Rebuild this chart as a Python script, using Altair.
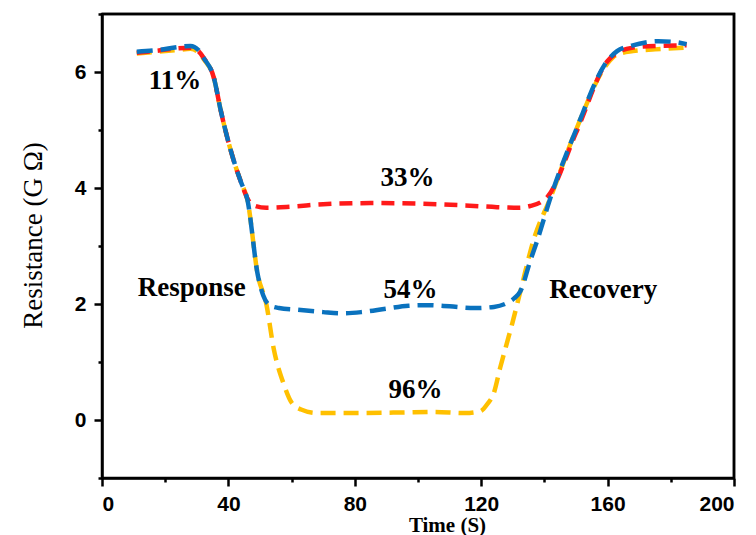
import altair as alt
import pandas as pd

# Red series (33%)
red_t = [11, 18, 24, 28, 30.5, 32.2, 35.4, 37.6, 41.7, 44, 46, 48, 52, 60, 70, 85, 100, 115, 125, 132, 135.5, 139, 141, 150, 160, 163, 168, 175, 185]
red_r = [6.33, 6.37, 6.41, 6.42, 6.36, 6.24, 5.9, 5.33, 4.47, 4.1, 3.82, 3.7, 3.66, 3.68, 3.72, 3.74, 3.73, 3.7, 3.67, 3.66, 3.69, 3.76, 3.85, 4.95, 6.19, 6.33, 6.42, 6.45, 6.46]

# Blue series (54%)
blue_t = [11, 18, 24, 28, 30.5, 32.2, 35.4, 37.6, 41.7, 44, 46, 49.3, 51, 53, 56, 62, 70, 76, 82, 90, 97, 103, 110, 118, 124, 128.3, 130.5, 132.4, 135.5, 137.7, 141.9, 150, 160, 163, 168, 172, 176, 181, 185]
blue_r = [6.35, 6.38, 6.43, 6.45, 6.38, 6.24, 5.9, 5.33, 4.47, 4.1, 3.8, 2.5, 2.15, 1.98, 1.93, 1.9, 1.86, 1.84, 1.86, 1.92, 1.97, 1.98, 1.96, 1.93, 1.95, 2.02, 2.1, 2.22, 2.74, 3.09, 3.83, 5.0, 6.2, 6.36, 6.46, 6.51, 6.53, 6.52, 6.48]

# Orange series (96%)
orange_t = [11, 18, 24, 28, 30.5, 32.2, 35.4, 37.6, 41.7, 44, 46, 49.3, 52, 54.3, 57.5, 60, 63, 68, 80, 95, 105, 115, 119.7, 122, 123.9, 126, 128, 130, 131.4, 133, 136.5, 141.9, 150, 160, 163, 168, 175, 185]
orange_r = [6.32, 6.35, 6.38, 6.4, 6.34, 6.22, 5.9, 5.33, 4.47, 4.1, 3.8, 2.5, 2.0, 1.24, 0.62, 0.3, 0.18, 0.12, 0.12, 0.13, 0.14, 0.12, 0.15, 0.28, 0.45, 0.9, 1.3, 1.7, 2.0, 2.35, 3.09, 3.83, 5.0, 6.15, 6.3, 6.36, 6.39, 6.42]

# Annotations
ann_text = ["11%", "33%", "54%", "96%", "Response", "Recovery"]
ann_t = [23.1, 96.7, 97.6, 99.2, 28.4, 158.6]
ann_r = [5.71, 4.03, 2.10, 0.38, 2.14, 2.10]

x_ticks = [0, 20, 40, 60, 80, 100, 120, 140, 160, 180, 200]
y_ticks = [-1, 0, 1, 2, 3, 4, 5, 6, 7]

# top-left, top-right and bottom-right corners of the axis range (frame)
frame_t = [0, 200, 200]
frame_r = [7, 7, -1]

x_scale = alt.Scale(domain=[0, 200], nice=False, zero=False)
y_scale = alt.Scale(domain=[-1, 7], nice=False, zero=False)

x_axis = alt.Axis(
    values=x_ticks,
    format="d",
    labelExpr="datum.value % 40 === 0 ? datum.label : ''",
    title="Time (S)",
    titleFont="Liberation Serif", titleFontSize=21, titleFontWeight="bold",
    titleX=345, titleY=47, titleBaseline="middle", titleAlign="center",
    grid=False,
    tickSize={"condition": {"test": "datum.value % 40 !== 0", "value": 4}, "value": 8},
    labelPadding=7,
)
y_axis = alt.Axis(
    values=y_ticks,
    format="d",
    labelExpr="datum.value % 2 === 0 && datum.value >= 0 && datum.value <= 6 ? datum.label : ''",
    title="Resistance (G Ω)",
    titleFont="Liberation Serif", titleFontSize=27, titleFontWeight="normal",
    titleX=-69, titleY=221, titleBaseline="middle", titleAlign="center",
    grid=False,
    tickSize={"condition": {"test": "datum.value % 2 !== 0", "value": 4}, "value": 8},
    labelPadding=8,
)

frame = alt.Chart(pd.DataFrame({"t": frame_t, "r": frame_r, "o": [0, 1, 2]})).mark_line(
    color="black", strokeWidth=2.5, interpolate="linear", clip=False
).encode(
    x=alt.X("t:Q", scale=x_scale, axis=x_axis),
    y=alt.Y("r:Q", scale=y_scale, axis=y_axis),
    order="o:Q",
)

def series(t, r, color, dash):
    df = pd.DataFrame({"t": t, "r": r})
    return alt.Chart(df).mark_line(
        color=color, strokeWidth=4.5, strokeDash=dash, interpolate="monotone"
    ).encode(
        x=alt.X("t:Q", scale=x_scale),
        y=alt.Y("r:Q", scale=y_scale),
    )

orange = series(orange_t, orange_r, "#FFC000", [15, 8])
red = series(red_t, red_r, "#FF1A1A", [13, 8])
blue = series(blue_t, blue_r, "#0A72BE", [16, 8])

ann_df = pd.DataFrame({"t": ann_t, "r": ann_r, "label": ann_text})
ann = alt.Chart(ann_df).mark_text(
    font="Liberation Serif", fontSize=27, fontWeight="bold", color="black",
    align="center", baseline="alphabetic"
).encode(
    x=alt.X("t:Q", scale=x_scale),
    y=alt.Y("r:Q", scale=y_scale),
    text="label:N",
)

chart = alt.layer(frame, orange, red, blue, ann).properties(
    width=632, height=464,
    background="white",
    autosize=alt.AutoSizeParams(type="none"),
    padding={"left": 102, "top": 14, "right": 22, "bottom": 57},
).configure_view(
    stroke="black", strokeWidth=2.5
).configure_axis(
    domainColor="black", domainWidth=2.5,
    tickColor="black", tickWidth=2.5,
    labelFont="Liberation Sans", labelFontSize=21, labelFontWeight="bold",
    labelColor="black", titleColor="black",
)

chart.save("out.html", embed_options={"renderer": "svg", "actions": False})
